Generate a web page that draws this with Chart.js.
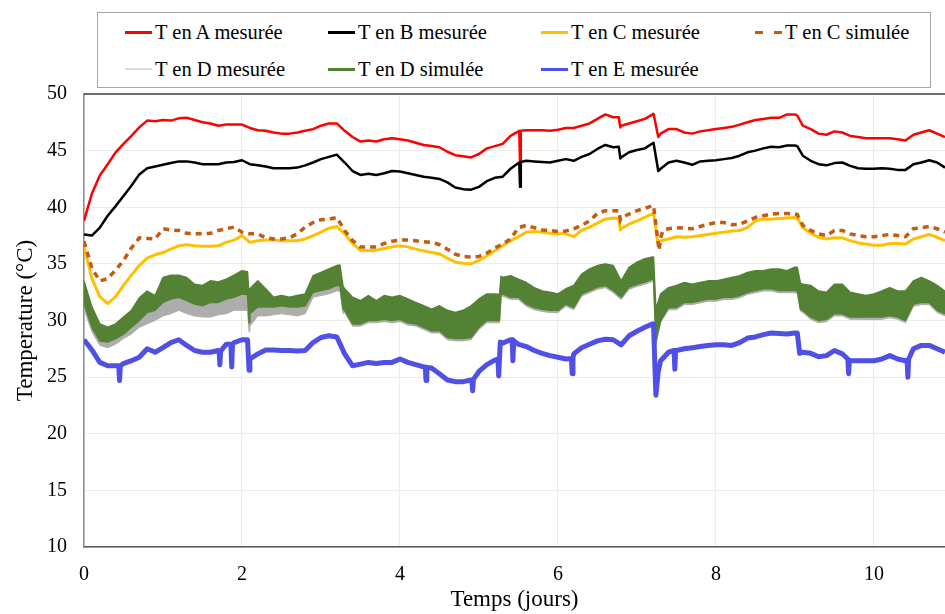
<!DOCTYPE html>
<html lang="fr">
<head>
<meta charset="utf-8">
<title>Températures mesurées et simulées</title>
<script src="https://cdn.jsdelivr.net/npm/chart.js@4.4.1/dist/chart.umd.min.js"></script>
<style>
  html, body { margin: 0; padding: 0; background: #fff; }
  #cadre { position: relative; width: 945px; height: 614px; overflow: hidden; }
  #graphique { position: absolute; left: 0; top: 0; }
  #legende {
    position: absolute; left: 97px; top: 12px; width: 832px; height: 74px;
    border: 1px solid #a6a6a6; background: #fff;
    font-family: 'Liberation Serif', 'Times New Roman', serif; font-size: 20.5px; color: #000;
  }
  .item { position: absolute; height: 24px; line-height: 24px; white-space: nowrap; }
  .trait { position: absolute; left: 0; top: 11px; width: 27px; height: 2.5px; }
  .txt { position: absolute; left: 30px; top: 0; }
</style>
</head>
<body>
<div id="cadre">
  <canvas id="graphique" width="945" height="614"></canvas>
  <div id="legende"></div>
</div>
<script>
// grille de temps commune (jours), pas de 0.1 j
const jours = Array.from({ length: 110 }, (_, i) => i / 10);

const tA = [
  38.8, 41.2, 42.8, 43.8, 44.85, 45.6, 46.3, 47.05, 47.65, 47.6,
  47.7, 47.65, 47.85, 47.9, 47.7, 47.5, 47.4, 47.2, 47.3, 47.3,
  47.3, 47.0, 46.8, 46.75, 46.6, 46.5, 46.5, 46.6, 46.75, 46.9,
  47.2, 47.4, 47.4, 46.75, 46.2, 45.8, 45.9, 45.8, 46.0, 46.1,
  46.0, 45.9, 45.7, 45.5, 45.4, 45.3, 44.9, 44.6, 44.5, 44.4,
  44.7, 45.2, 45.4, 45.6, 46.3, 46.7, 46.8, 46.8, 46.8, 46.75,
  46.85, 47.0, 47.0, 47.2, 47.4, 47.8, 48.2, 47.95, 47.2, 47.4,
  47.6, 47.8, 48.2, 46.5, 46.9, 46.9, 46.6, 46.5, 46.7, 46.8,
  46.9, 47.0, 47.1, 47.3, 47.5, 47.7, 47.8, 47.9, 47.9, 48.2,
  48.2, 47.2, 46.9, 46.5, 46.4, 46.7, 46.6, 46.3, 46.2, 46.1,
  46.1, 46.1, 46.1, 46.0, 45.9, 46.4, 46.6, 46.8, 46.5, 46.2
];
const tB = [
  37.6, 37.5, 38.2, 39.25, 40.1, 41.0, 41.9, 42.9, 43.45, 43.6,
  43.75, 43.9, 44.05, 44.05, 43.95, 43.8, 43.8, 43.8, 43.95, 44.0,
  44.15, 43.8, 43.7, 43.6, 43.45, 43.45, 43.45, 43.5, 43.7, 43.95,
  44.25, 44.45, 44.65, 43.95, 43.2, 42.85, 42.95, 42.85, 43.0, 43.2,
  43.15, 43.0, 42.85, 42.7, 42.6, 42.5, 42.2, 41.75, 41.6, 41.55,
  41.8, 42.3, 42.6, 42.7, 43.4, 43.9, 44.1, 44.05, 44.0, 43.95,
  44.1, 44.25, 44.1, 44.45, 44.7, 45.15, 45.5, 45.3, 44.4, 44.85,
  45.05, 45.2, 45.65, 43.4, 43.95, 44.1, 43.95, 43.75, 44.05, 44.1,
  44.15, 44.25, 44.35, 44.55, 44.85, 45.0, 45.2, 45.35, 45.3, 45.45,
  45.45, 44.55, 44.1, 43.8, 43.7, 43.9, 43.95, 43.65, 43.45, 43.4,
  43.4, 43.45, 43.4, 43.3, 43.3, 43.8, 43.95, 44.15, 43.95, 43.5
];
const tCmes = [
  36.5, 33.7, 32.1, 31.5, 32.1, 33.1, 34.0, 34.85, 35.5, 35.8,
  36.0, 36.3, 36.6, 36.7, 36.6, 36.55, 36.55, 36.6, 36.9, 37.1,
  37.5, 36.9, 37.05, 37.1, 37.1, 37.05, 37.05, 37.05, 37.2, 37.5,
  37.8, 38.15, 38.3, 37.65, 36.8, 36.2, 36.15, 36.2, 36.35, 36.5,
  36.6, 36.5, 36.3, 36.15, 36.0, 35.9, 35.5, 35.15, 35.05, 35.0,
  35.3, 35.7, 36.15, 36.6, 37.05, 37.4, 37.8, 37.85, 37.8, 37.7,
  37.65, 37.65, 37.4, 37.95, 38.25, 38.6, 38.95, 39.05, 38.1, 38.5,
  38.8, 39.1, 39.45, 37.05, 37.2, 37.4, 37.35, 37.4, 37.5, 37.6,
  37.7, 37.8, 37.9, 37.95, 38.2, 38.8, 38.95, 38.95, 39.0, 39.05,
  39.1, 38.2, 37.7, 37.35, 37.2, 37.3, 37.3, 37.05, 36.85, 36.75,
  36.65, 36.65, 36.8, 36.8, 36.75, 37.2, 37.4, 37.6, 37.35, 37.05
];
const tCsim = [
  37.0, 34.6, 33.5, 33.7, 34.45, 35.3, 36.4, 37.3, 37.25, 37.2,
  38.1, 38.0, 37.95, 37.7, 37.65, 37.65, 37.7, 37.95, 38.1, 38.25,
  37.8, 37.65, 37.65, 37.3, 37.2, 37.2, 37.3, 37.65, 38.25, 38.65,
  38.9, 38.95, 39.1, 37.95, 37.05, 36.5, 36.5, 36.5, 36.8, 37.0,
  37.1, 37.1, 37.05, 36.95, 36.9, 36.7, 36.3, 35.85, 35.65, 35.6,
  35.65, 35.95, 36.4, 36.75, 37.2, 38.2, 38.4, 38.2, 38.0, 37.95,
  37.85, 37.9, 38.1, 38.4, 38.8, 39.45, 39.7, 39.7, 39.05, 39.4,
  39.7, 39.9, 40.15, 37.3, 38.1, 38.2, 38.15, 38.1, 38.3, 38.5,
  38.65, 38.65, 38.45, 38.5, 38.8, 39.1, 39.25, 39.4, 39.45, 39.45,
  39.4, 38.4, 37.95, 37.65, 37.5, 37.95, 37.95, 37.65, 37.5, 37.4,
  37.4, 37.5, 37.6, 37.5, 37.4, 38.1, 38.2, 38.3, 38.1, 37.8
];
// D : bandes bruitées, bord haut et bord bas
const tDmesHaut = [
  33.0, 30.7, 29.2, 28.9, 29.2, 29.8, 30.4, 31.5, 32.1, 31.7,
  33.3, 33.5, 33.5, 33.3, 32.7, 32.6, 33.0, 32.9, 33.15, 33.5,
  33.9, 32.3, 33.0, 32.3, 31.55, 31.7, 31.55, 31.7, 31.85, 33.45,
  33.75, 34.05, 34.35, 32.3, 31.55, 31.25, 31.7, 31.25, 31.7, 31.55,
  31.7, 31.4, 31.1, 30.8, 30.5, 30.8, 30.4, 30.2, 30.4, 30.8,
  31.4, 31.85, 31.85, 33.3, 33.45, 33.15, 32.85, 32.4, 32.1, 32.0,
  31.85, 32.3, 32.6, 33.6, 34.05, 34.35, 34.5, 34.35, 33.0, 34.2,
  34.65, 34.95, 35.1, 31.85, 32.4, 32.6, 32.85, 32.7, 32.85, 33.0,
  33.0, 33.15, 33.3, 33.45, 33.75, 33.9, 33.9, 34.05, 34.05, 33.9,
  34.2, 32.7, 32.6, 32.1, 32.0, 32.7, 32.7, 32.0, 31.85, 31.7,
  31.85, 32.1, 32.4, 32.1, 32.1, 33.0, 33.3, 33.0, 32.6, 32.1
];
const tDmesBas = [
  31.0, 29.0, 27.8, 27.6, 27.9, 28.4, 28.8, 29.4, 29.7, 30.0,
  30.4, 30.6, 30.9, 30.6, 30.4, 30.3, 30.3, 30.5, 30.6, 30.9,
  30.9, 29.5, 30.4, 30.4, 30.5, 30.6, 30.5, 30.4, 30.6, 32.05,
  32.2, 32.35, 32.6, 30.7, 29.5, 29.5, 29.8, 29.8, 29.9, 29.8,
  29.9, 29.6, 29.5, 29.2, 28.9, 28.9, 28.3, 28.2, 28.2, 28.3,
  29.2, 29.8, 29.8, 32.15, 31.85, 31.85, 31.25, 30.95, 30.8, 30.7,
  30.7, 31.25, 30.95, 32.15, 32.45, 32.75, 32.9, 32.45, 31.85, 32.75,
  33.0, 33.2, 33.45, 29.8, 30.95, 30.95, 31.4, 31.4, 31.55, 31.7,
  31.7, 31.85, 31.85, 32.0, 32.3, 32.45, 32.6, 32.6, 32.45, 32.45,
  32.45, 30.7, 30.1, 29.8, 29.9, 30.4, 30.4, 30.1, 30.1, 30.1,
  30.1, 30.1, 30.25, 30.1, 29.8, 31.25, 31.4, 31.4, 30.7, 30.4
];
const tDsimHaut = [
  33.5, 31.2, 29.7, 29.4, 29.7, 30.3, 30.9, 32.0, 32.6, 32.2,
  33.8, 34.0, 34.0, 33.8, 33.2, 33.1, 33.5, 33.4, 33.65, 34.0,
  34.4, 32.8, 33.5, 32.8, 32.05, 32.2, 32.05, 32.2, 32.35, 33.95,
  34.25, 34.55, 34.85, 32.8, 32.05, 31.75, 32.2, 31.75, 32.2, 32.05,
  32.2, 31.9, 31.6, 31.3, 31.0, 31.3, 30.9, 30.7, 30.9, 31.3,
  31.9, 32.35, 32.35, 33.8, 33.95, 33.65, 33.35, 32.9, 32.6, 32.5,
  32.35, 32.8, 33.1, 34.1, 34.55, 34.85, 35.0, 34.85, 33.5, 34.7,
  35.15, 35.45, 35.6, 32.35, 32.9, 33.1, 33.35, 33.2, 33.35, 33.5,
  33.5, 33.65, 33.8, 33.95, 34.25, 34.4, 34.4, 34.55, 34.55, 34.4,
  34.7, 33.2, 33.1, 32.6, 32.5, 33.2, 33.2, 32.5, 32.35, 32.2,
  32.35, 32.6, 32.9, 32.6, 32.6, 33.5, 33.8, 33.5, 33.1, 32.6
];
const tDsimBas = [
  31.5, 29.4, 28.2, 28.1, 28.4, 28.8, 29.4, 30.0, 30.7, 30.9,
  31.6, 31.9, 32.05, 31.75, 31.45, 31.3, 31.6, 31.6, 31.9, 32.05,
  32.35, 30.6, 31.2, 31.2, 31.2, 31.3, 31.2, 31.2, 31.3, 32.5,
  32.65, 32.8, 33.1, 30.9, 29.7, 29.7, 30.0, 30.0, 30.1, 30.0,
  30.1, 29.8, 29.7, 29.4, 29.1, 29.1, 28.5, 28.4, 28.4, 28.5,
  29.4, 30.0, 30.0, 32.35, 32.05, 32.05, 31.45, 31.15, 31.0, 30.9,
  30.9, 31.45, 31.15, 32.35, 32.65, 32.95, 33.1, 32.65, 32.05, 32.95,
  33.2, 33.4, 33.65, 30.0, 31.15, 31.15, 31.6, 31.6, 31.75, 31.9,
  31.9, 32.05, 32.05, 32.2, 32.5, 32.65, 32.8, 32.8, 32.65, 32.65,
  32.65, 30.9, 30.3, 30.0, 30.1, 30.6, 30.6, 30.3, 30.3, 30.3,
  30.3, 30.3, 30.45, 30.3, 30.0, 31.45, 31.6, 31.6, 30.9, 30.6
];
const tE = [
  28.3, 27.4, 26.3, 26.0, 26.0, 26.2, 26.45, 26.75, 27.5, 27.2,
  27.6, 28.05, 28.3, 27.8, 27.35, 27.2, 27.2, 27.35, 27.9, 28.05,
  28.3, 26.6, 27.05, 27.4, 27.4, 27.35, 27.35, 27.3, 27.35, 28.05,
  28.5, 28.65, 28.55, 27.05, 26.0, 26.15, 26.3, 26.2, 26.3, 26.3,
  26.6, 26.3, 26.1, 25.9, 25.8, 25.3, 24.75, 24.6, 24.6, 24.75,
  25.5, 26.1, 26.5, 28.0, 28.3, 27.9, 27.7, 27.35, 27.1, 26.9,
  26.75, 26.6, 27.05, 27.6, 27.9, 28.2, 28.35, 28.3, 27.85, 28.65,
  29.05, 29.4, 29.7, 26.45, 27.2, 27.35, 27.5, 27.6, 27.7, 27.8,
  27.85, 27.85, 27.8, 28.05, 28.45, 28.55, 28.75, 28.9, 28.85, 28.8,
  28.9, 27.2, 27.1, 26.8, 26.9, 27.35, 27.05, 26.45, 26.45, 26.45,
  26.45, 26.6, 26.9, 26.6, 26.45, 27.5, 27.8, 27.8, 27.5, 27.2
];

// ruptures et pics brefs [jour, valeur], hors de la grille de 0.1 j
const ruptA = [[5.51, 46.75], [5.52, 44.0], [5.53, 46.75], [6.77, 47.95], [6.79, 47.05], [7.21, 48.25], [7.27, 46.2], [9.03, 48.1]];
const ruptB = [[5.51, 43.95], [5.52, 41.8], [5.53, 44.0], [6.77, 45.35], [6.79, 44.3], [7.21, 45.7], [7.27, 43.2], [9.03, 45.4]];
const ruptCmes = [[6.77, 39.0], [6.79, 38.0], [7.21, 39.5], [7.26, 37.0], [9.03, 39.05]];
const ruptCsim = [[6.77, 39.7], [6.79, 38.9], [7.21, 40.15], [7.28, 36.2], [7.33, 37.95], [9.03, 39.35]];
const ruptDmesHaut = [[2.07, 33.8], [2.09, 31.5], [3.24, 34.4], [3.28, 32.5], [5.26, 31.8], [5.28, 33.4], [7.21, 35.1], [7.24, 30.5], [9.03, 34.2], [9.07, 32.8]];
const ruptDmesBas = [[2.07, 30.9], [2.09, 29.0], [3.24, 32.6], [3.28, 30.6], [5.26, 29.8], [5.28, 32.1], [7.21, 33.4], [7.24, 27.8], [9.03, 32.4], [9.07, 30.8]];
const ruptDsimHaut = [[2.07, 34.3], [2.09, 32.0], [3.24, 34.9], [3.28, 33.0], [5.26, 32.3], [5.28, 33.9], [7.21, 35.6], [7.24, 31.0], [9.03, 34.7], [9.07, 33.3]];
const ruptDsimBas = [[2.07, 32.3], [2.09, 29.8], [3.24, 33.1], [3.28, 31.0], [5.26, 30.0], [5.28, 32.3], [7.21, 33.6], [7.24, 28.2], [9.03, 32.6], [9.07, 31.0]];
const ruptE = [
  [0.44, 26.0], [0.45, 24.7], [0.46, 26.0], [1.71, 27.3], [1.72, 26.1], [1.73, 27.3],
  [1.86, 27.9], [1.87, 25.9], [1.88, 27.9], [2.07, 28.3], [2.09, 25.6],
  [4.32, 25.9], [4.33, 24.7], [4.34, 25.85], [4.91, 24.7], [4.92, 23.8], [4.93, 24.8],
  [5.24, 26.6], [5.25, 25.1], [5.27, 28.1], [5.42, 28.3], [5.43, 26.45], [5.44, 28.2],
  [6.17, 26.65], [6.18, 25.3], [6.19, 26.7], [7.21, 29.7], [7.24, 23.4], [7.27, 25.5],
  [7.47, 27.35], [7.48, 25.7], [7.49, 27.35], [9.03, 28.9], [9.06, 27.1],
  [9.67, 26.6], [9.68, 25.3], [9.69, 26.5], [10.42, 26.5], [10.43, 25.0], [10.44, 26.6]
];

const ticksX = [0, 2, 4, 6, 8, 10];
const ticksY = [10, 15, 20, 25, 30, 35, 40, 45, 50];

const legende = [
  { label: 'T en A mesurée', couleur: '#FF0000' },
  { label: 'T en B mesurée', couleur: '#000000' },
  { label: 'T en C mesurée', couleur: '#FFC000' },
  { label: 'T en C simulée', couleur: '#C55A11', tirets: true },
  { label: 'T en D mesurée', couleur: '#D9D9D9', fin: true },
  { label: 'T en D simulée', couleur: '#548235' },
  { label: 'T en E mesurée', couleur: '#5050E6' },
];

const serie = function(valeurs, ruptures) {
  const pts = valeurs.map((y, i) => ({ x: jours[i], y: y }));
  ruptures.forEach(([x, y]) => pts.push({ x: x, y: y }));
  return pts.sort((a, b) => a.x - b.x);
};

// légende en HTML, colonnes fixes comme dans la figure
const $leg = document.getElementById('legende');
const colonnes = [27, 230, 443, 657];
legende.forEach((it, i) => {
  const $it = document.createElement('div');
  $it.className = 'item';
  $it.style.left = colonnes[i % 4] + 'px';
  $it.style.top = (i < 4 ? 7 : 44) + 'px';
  const $t = document.createElement('div');
  $t.className = 'trait';
  if (it.tirets) {
    $t.style.background = 'linear-gradient(to right, ' + it.couleur + ' 0 8px, transparent 8px 19px, ' + it.couleur + ' 19px 27px)';
  } else {
    $t.style.background = it.couleur;
  }
  if (it.fin) $t.style.height = '1.5px';
  const $s = document.createElement('span');
  $s.className = 'txt';
  $s.textContent = it.label;
  $it.appendChild($t);
  $it.appendChild($s);
  $leg.appendChild($it);
});

const bordHaut = {
  id: 'bordHaut',
  afterDraw(chart) {
    const {ctx, chartArea} = chart;
    ctx.save();
    ctx.strokeStyle = '#404040';
    ctx.lineWidth = 1.5;
    ctx.beginPath();
    ctx.moveTo(chartArea.left, chartArea.top);
    ctx.lineTo(chartArea.right, chartArea.top);
    ctx.stroke();
    ctx.restore();
  },
};

const police = "'Liberation Serif', 'Times New Roman', serif";

const ligne = function(label, data, couleur, largeur, ordre) {
  return {
    label: label,
    data: data,
    borderColor: couleur,
    backgroundColor: couleur,
    borderWidth: largeur,
    borderJoinStyle: 'round',
    pointRadius: 0,
    tension: 0,
    fill: false,
    order: ordre,
  };
};

const dsE = ligne('T en E mesurée', serie(tE, ruptE), '#5050E6', 5, 0);
const dsDsimHaut = ligne('T en D simulée', serie(tDsimHaut, ruptDsimHaut), '#548235', 1.5, 1);
const dsDsimBas = ligne('T en D simulée (bas)', serie(tDsimBas, ruptDsimBas), '#548235', 1.5, 1);
dsDsimBas.fill = 1;
const dsDmesHaut = ligne('T en D mesurée', serie(tDmesHaut, ruptDmesHaut), '#ADADAD', 1, 2);
const dsDmesBas = ligne('T en D mesurée (bas)', serie(tDmesBas, ruptDmesBas), '#ADADAD', 1, 2);
dsDmesBas.fill = 3;
const dsCsim = ligne('T en C simulée', serie(tCsim, ruptCsim), '#C55A11', 3.5, 3);
dsCsim.borderDash = [6, 5];
dsCsim.borderJoinStyle = 'miter';
const dsCmes = ligne('T en C mesurée', serie(tCmes, ruptCmes), '#FFC000', 3, 4);
const dsB = ligne('T en B mesurée', serie(tB, ruptB), '#000000', 2.5, 5);
const dsA = ligne('T en A mesurée', serie(tA, ruptA), '#FF0000', 2.5, 6);

new Chart(document.getElementById('graphique'), {
  type: 'line',
  data: {
    datasets: [dsE, dsDsimHaut, dsDsimBas, dsDmesHaut, dsDmesBas, dsCsim, dsCmes, dsB, dsA],
  },
  options: {
    responsive: false,
    animation: false,
    events: [],
    layout: { padding: { top: 94, left: 0, right: 0, bottom: 0 } },
    plugins: {
      legend: { display: false },
      tooltip: { enabled: false },
    },
    scales: {
      x: {
        type: 'linear',
        min: 0,
        max: 10.9,
        afterFit: (s) => { s.height = 67; },
        afterBuildTicks: (s) => { s.ticks = ticksX.map(v => ({ value: v })); },
        ticks: { stepSize: 2, includeBounds: false, padding: 16, color: '#000', font: { family: police, size: 20 } },
        grid: { color: '#ececec', drawTicks: false },
        border: { display: true, color: '#595959', width: 1.5 },
        title: { display: true, text: 'Temps (jours)', color: '#000', font: { family: police, size: 23 }, padding: { top: 0, bottom: 0 } },
      },
      y: {
        min: 10,
        max: 50,
        afterFit: (s) => { s.width = 84; },
        afterBuildTicks: (s) => { s.ticks = ticksY.map(v => ({ value: v })); },
        ticks: { stepSize: 5, padding: 17, color: '#000', font: { family: police, size: 20 } },
        grid: { color: '#ececec', drawTicks: false },
        border: { display: true, color: '#8c8c8c', width: 1.5 },
        title: { display: true, text: 'Temperature (°C)', color: '#000', font: { family: police, size: 23 }, padding: { top: 12, bottom: 0 } },
      },
    },
  },
  plugins: [bordHaut],
});
</script>
</body>
</html>
